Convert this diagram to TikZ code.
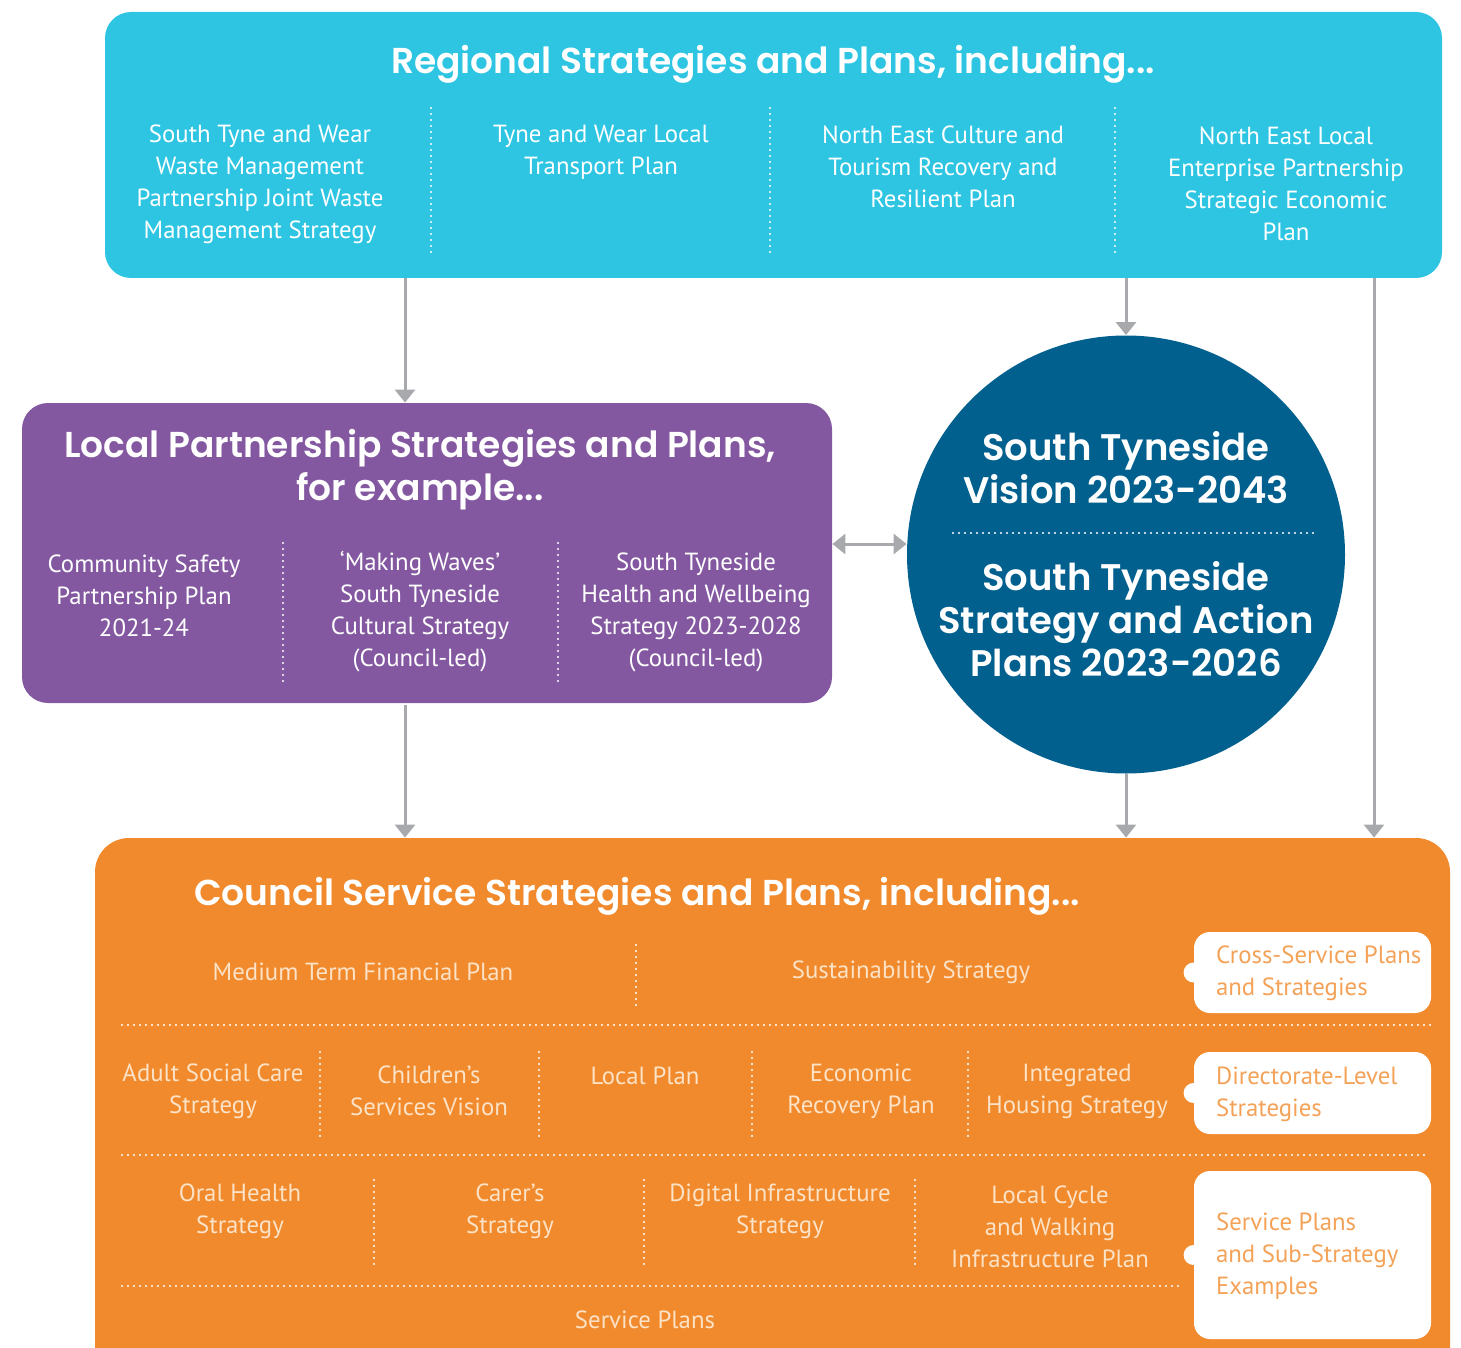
\documentclass[tikz,border=0pt]{standalone}
\usepackage{fontspec}
\setmainfont{PT Sans}
\newfontfamily\headfont{Poppins SemiBold}
\usetikzlibrary{arrows.meta,positioning,calc}

\definecolor{regcyan}{HTML}{2EC5E3}
\definecolor{locpurple}{HTML}{8358A0}
\definecolor{visblue}{HTML}{02608F}
\definecolor{csorange}{HTML}{F18A2C}
\definecolor{linkgrey}{HTML}{A7A9AC}
\definecolor{paleorange}{HTML}{FCE2C6}
\definecolor{tagorange}{HTML}{F4A258}

\tikzset{
  panel/.style={rounded corners=13pt, inner sep=0pt, minimum width=#1},
  heading/.style={text=white, align=center, font=\headfont\fontsize{18}{21.5}\selectfont},
  item/.style={text=white, align=center, font=\fontsize{12.4}{16}\selectfont},
  csitem/.style={item, text=paleorange},
  sep/.style={white, line width=1.1pt, line cap=round, dash pattern=on 0pt off 3pt},
  link/.style={linkgrey, line width=1.5pt, >={Triangle[width=10pt,length=6.5pt]}, ->},
  tagbox/.style={fill=white, rounded corners=8pt, minimum width=118.5pt, inner sep=0pt},
  tagtext/.style={anchor=west, align=left, text=tagorange, font=\fontsize{12.4}{16}\selectfont},
}

\begin{document}
\begin{tikzpicture}[x=0.5pt,y=-0.5pt]
\useasboundingbox (0,0) rectangle (1461,1348);

% regional tier
\node[panel=668.5pt, fill=regcyan, minimum height=133pt] (regional) at (773.5,145) {};
\node[heading] (regtitle) at (773,64) {Regional Strategies and Plans, including...};
\node[item] (reg1) at (260,184) {South Tyne and Wear\\Waste Management\\Partnership Joint Waste\\Management Strategy};
\node[item] (reg2) at (601,152) {Tyne and Wear Local\\Transport Plan};
\node[item] (reg3) at (943,167) {North East Culture and\\Tourism Recovery and\\Resilient Plan};
\node[item] (reg4) at (1286,184) {North East Local\\Enterprise Partnership\\Strategic Economic\\Plan};
\foreach \x in {431,770,1115}
  \draw[sep] (\x,108) -- (\x,255);

% local partnership tier
\node[panel=405pt, fill=locpurple, minimum height=150pt] (local) at (427,553) {};
\node[heading] (loctitle) at (420,470) {Local Partnership Strategies and Plans,\\for example...};
\node[item] (loc1) at (144,596) {Community Safety\\Partnership Plan\\2021-24};
\node[item] (loc2) at (420,612) {`Making Waves'\\South Tyneside\\Cultural Strategy\\(Council-led)};
\node[item] (loc3) at (696,612) {South Tyneside\\Health and Wellbeing\\Strategy 2023-2028\\(Council-led)};
\foreach \x in {283,558}
  \draw[sep] (\x,543) -- (\x,683);

% vision circle
\node[circle, fill=visblue, minimum size=219pt, inner sep=0pt] (vision) at (1126,554.5) {};
\node[heading, font=\headfont\fontsize{18.5}{21.5}\selectfont] (vistop) at (1126,467.5) {South Tyneside\\Vision 2023-2043};
\node[heading, font=\headfont\fontsize{18.5}{21.5}\selectfont] (visbot) at (1126,619.5) {South Tyneside\\Strategy and Action\\Plans 2023-2026};
\draw[sep] (953,533) -- (1315,533);

% council service tier
\node[panel=677.5pt, fill=csorange, minimum height=281pt, rounded corners=17pt] (council) at (772.5,1119) {};
\node[heading] (cstitle) at (637,896) {Council Service Strategies and Plans, including...};
\node[csitem] (cs1) at (363,972) {Medium Term Financial Plan};
\node[csitem] (cs2) at (911,972) {Sustainability Strategy};
\draw[sep] (636,945) -- (636,1010);
\draw[sep] (122,1025) -- (1432,1025);
\node[csitem] (dir1) at (213,1091) {Adult Social Care\\Strategy};
\node[csitem] (dir2) at (429,1091) {Children's\\Services Vision};
\node[csitem] (dir3) at (645,1076) {Local Plan};
\node[csitem] (dir4) at (861,1091) {Economic\\Recovery Plan};
\node[csitem] (dir5) at (1077,1091) {Integrated\\Housing Strategy};
\foreach \x in {320,539,752,968}
  \draw[sep] (\x,1052) -- (\x,1137);
\draw[sep] (122,1155) -- (1425,1155);
\node[csitem] (svc1) at (240,1211) {Oral Health\\Strategy};
\node[csitem] (svc2) at (510,1211) {Carer's\\Strategy};
\node[csitem] (svc3) at (780,1211) {Digital Infrastructure\\Strategy};
\node[csitem] (svc4) at (1050,1227) {Local Cycle\\and Walking\\Infrastructure Plan};
\foreach \x in {374,644,915}
  \draw[sep] (\x,1180) -- (\x,1265);
\draw[sep] (122,1286) -- (1180,1286);
\node[csitem] (svc5) at (645,1320) {Service Plans};

% level tags
\node[tagbox, minimum height=40.5pt] (tagcross) at (1312.5,972.5) {};
\node[tagbox, minimum height=41pt] (tagdir) at (1312.5,1093) {};
\node[tagbox, minimum height=84pt] (tagsvc) at (1312.5,1255) {};
\foreach \t in {tagcross,tagdir,tagsvc}
  \fill[white] (\t.west) circle (5pt);
\node[tagtext] (crosslabel) at (1209,973) {Cross-Service Plans\\and Strategies};
\node[tagtext] (dirlabel) at (1209,1094) {Directorate-Level\\Strategies};
\node[tagtext] (svclabel) at (1209,1256) {Service Plans\\and Sub-Strategy\\Examples};

% links
\coordinate (leftdrop) at (405,0);
\coordinate (rightdrop) at (1374,0);
\coordinate (pairlevel) at (0,544);
\draw[link] (regional.south -| leftdrop) -- (local.north -| leftdrop);
\draw[link] (regional.south -| vision.north) -- (vision.north);
\draw[link] (regional.south -| rightdrop) -- (council.north -| rightdrop);
\draw[link] ([yshift=-1pt]local.south -| leftdrop) -- (council.north -| leftdrop);
\draw[link] (vision.south) -- (council.north -| vision.south);
\draw[link, <->] (local.east |- pairlevel) -- (vision.west |- pairlevel);
\end{tikzpicture}
\end{document}
